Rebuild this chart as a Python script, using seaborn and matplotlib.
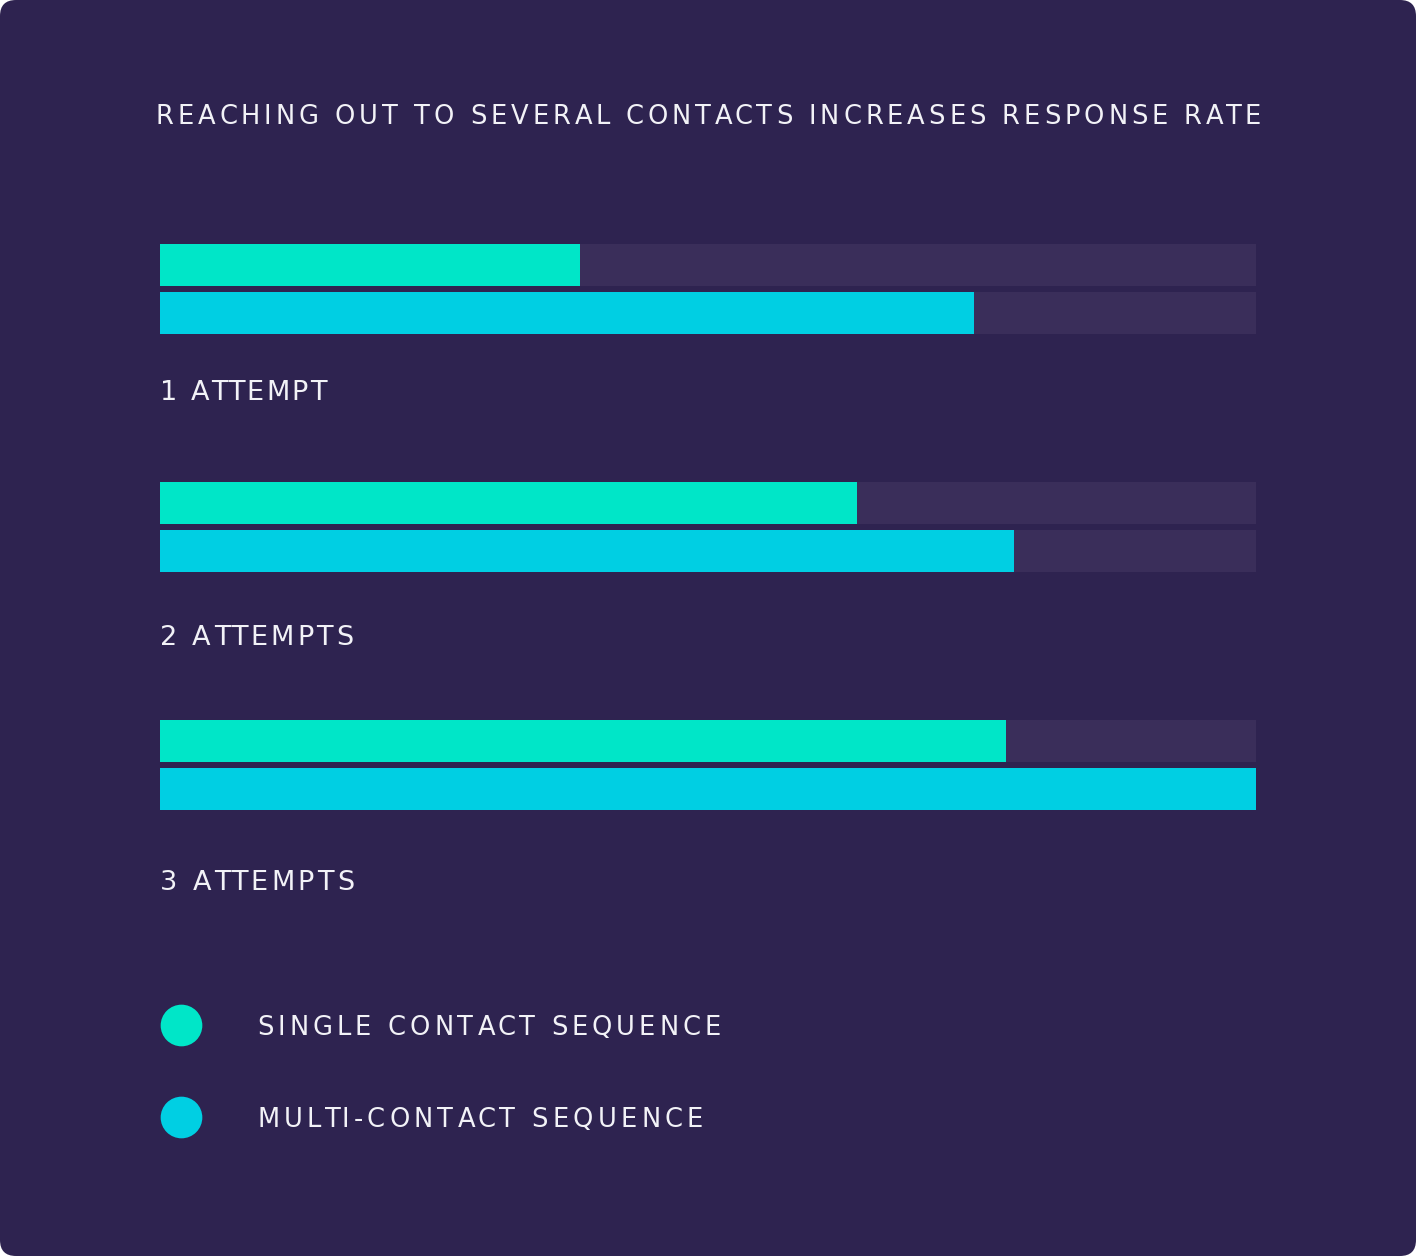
import matplotlib.pyplot as plt
import matplotlib.patches as mpatches
from matplotlib.lines import Line2D
import pandas as pd
import seaborn as sns

# data (share of the best result)
attempts = ["1 ATTEMPT", "2 ATTEMPTS", "3 ATTEMPTS"]
sequences = ["SINGLE CONTACT SEQUENCE", "MULTI-CONTACT SEQUENCE"]
single_rate = [0.383, 0.636, 0.772]
multi_rate = [0.743, 0.779, 1.0]
track_value = [1.0, 1.0, 1.0]
title = "REACHING OUT TO SEVERAL CONTACTS INCREASES RESPONSE RATE"

bg = "#2E2350"
track_col = "#3A2E5A"
colors = ["#00E6C8", "#00CFE3"]
text_col = "#F2F2F7"

df = pd.DataFrame({
    "attempt": attempts * 2,
    "sequence": [sequences[0]] * 3 + [sequences[1]] * 3,
    "rate": single_rate + multi_rate,
})
track = pd.DataFrame({
    "attempt": attempts * 2,
    "sequence": [sequences[0]] * 3 + [sequences[1]] * 3,
    "rate": track_value * 2,
})

sns.set_style("white")
plt.rcParams["font.family"] = ["DejaVu Sans"]

W, H = 1416, 1256
fig = plt.figure(figsize=(W / 100, H / 100), dpi=100)
fig.patch.set_facecolor("white")
card = mpatches.FancyBboxPatch((0, 0), W, H, boxstyle="round,pad=0,rounding_size=16",
                               transform=None, facecolor=bg, edgecolor="none", zorder=-5)
fig.patches.append(card)
renderer = fig.canvas.get_renderer()


def spaced_text(x, baseline, s, size, span, ha="left"):
    # letter-spaced text spanning `span` px; x/baseline in px from top-left
    def width(t):
        if not t:
            return 0.0
        tmp = fig.text(0, 0, t.replace(" ", "\u00a0"), fontsize=size)
        w = tmp.get_window_extent(renderer).width
        tmp.remove()
        return w
    track_px = (span - width(s)) / (len(s) - 1)
    x0 = x - span / 2 if ha == "center" else x
    for i, ch in enumerate(s):
        if ch == " ":
            continue
        xi = x0 + width(s[:i]) + track_px * i
        fig.text(xi / W, 1 - baseline / H, ch, fontsize=size,
                 color=text_col, ha="left", va="baseline")


# axes: x 160..1256 px, rows centred at 289/527/765 px
top, bottom = 170, 884
ax = fig.add_axes([160 / W, 1 - bottom / H, 1096 / W, (bottom - top) / H])
ax.set_facecolor("none")

sns.barplot(data=track, y="attempt", x="rate", hue="sequence", orient="h",
            palette=[track_col, track_col], width=0.403, gap=0.125,
            legend=False, ax=ax, errorbar=None, saturation=1, linewidth=0)
sns.barplot(data=df, y="attempt", x="rate", hue="sequence", orient="h",
            palette=colors, width=0.403, gap=0.125,
            legend=False, ax=ax, errorbar=None, saturation=1, linewidth=0)

ax.set_xlim(0, 1)
ax.set_ylim(2.5, -0.5)
ax.set_xticks([])
ax.set_yticks([])
ax.set_xlabel("")
ax.set_ylabel("")
for s in ax.spines.values():
    s.set_visible(False)

for base, lab, span in zip([400, 645, 890], attempts, [167, 193, 194]):
    spaced_text(160, base, lab, 19.5, span)

spaced_text(708, 124, title, 18.5, 1105, ha="center")

# legend
for y, base, lab, c, span in zip([1025, 1117], [1035, 1127], sequences, colors, [464, 446]):
    fig.add_artist(Line2D([181 / W], [1 - y / H], marker="o", markersize=30,
                          color=c, markeredgewidth=0, linestyle="none",
                          transform=fig.transFigure))
    spaced_text(257, base, lab, 18.5, span)

fig.savefig("out.png", dpi=100, facecolor=fig.get_facecolor())
